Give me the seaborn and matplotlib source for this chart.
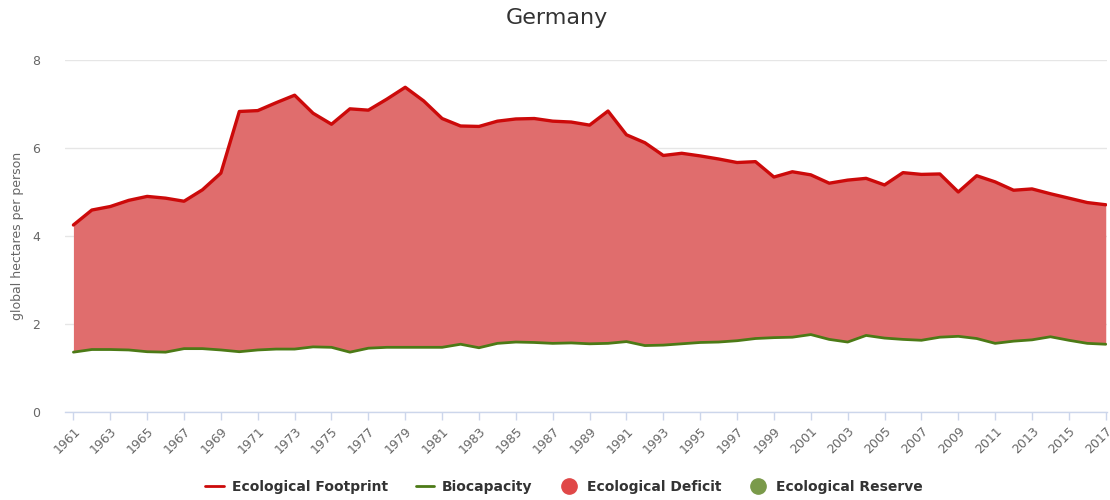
import seaborn as sns
import pandas as pd
import numpy as np
from matplotlib import pyplot as plt
from matplotlib.lines import Line2D

sns.set_theme(style="white")
plt.rcParams["font.family"] = ["DejaVu Sans"]

YEARS = list(range(1961, 2018))

FOOTPRINT = [4.25, 4.59, 4.67, 4.81, 4.90, 4.86, 4.79, 5.05, 5.43, 6.83,
             6.85, 7.03, 7.20, 6.79, 6.54, 6.89, 6.86, 7.11, 7.38, 7.07,
             6.67, 6.50, 6.49, 6.61, 6.66, 6.67, 6.61, 6.59, 6.52, 6.84,
             6.30, 6.12, 5.83, 5.88, 5.82, 5.75, 5.67, 5.69, 5.34, 5.46,
             5.39, 5.20, 5.27, 5.31, 5.16, 5.44, 5.40, 5.41, 5.00, 5.37,
             5.23, 5.04, 5.07, 4.96, 4.86, 4.76, 4.71]

BIOCAPACITY = [1.36, 1.42, 1.42, 1.41, 1.37, 1.36, 1.44, 1.44, 1.41, 1.37,
               1.41, 1.43, 1.43, 1.48, 1.47, 1.36, 1.45, 1.47, 1.47, 1.47,
               1.47, 1.54, 1.46, 1.56, 1.59, 1.58, 1.56, 1.57, 1.55, 1.56,
               1.60, 1.51, 1.52, 1.55, 1.58, 1.59, 1.62, 1.67, 1.69, 1.70,
               1.76, 1.65, 1.59, 1.74, 1.68, 1.65, 1.63, 1.70, 1.72, 1.67,
               1.56, 1.61, 1.64, 1.71, 1.63, 1.56, 1.54]

Y_TICKS = [0, 2, 4, 6, 8]
X_TICKS = list(range(1961, 2018, 2))

df = pd.DataFrame({"year": YEARS, "footprint": FOOTPRINT, "biocapacity": BIOCAPACITY})

fig, ax = plt.subplots(figsize=(11.1, 5), dpi=100)
fig.subplots_adjust(left=0.059, right=0.997, top=0.88, bottom=0.176)

# deficit area between footprint and biocapacity
ax.fill_between(df["year"], df["biocapacity"], df["footprint"],
                where=df["footprint"] >= df["biocapacity"],
                color="#e06d6d", linewidth=0, zorder=1)

sns.lineplot(data=df, x="year", y="footprint", color="#cc0a0a", linewidth=2.4, ax=ax, zorder=3)
sns.lineplot(data=df, x="year", y="biocapacity", color="#4c7a16", linewidth=2, ax=ax, zorder=3)

ax.set_xlim(1960.57, 2017.05)
ax.set_ylim(0, 8)
ax.set_yticks(Y_TICKS)
ax.set_xticks(X_TICKS)
ax.set_xticklabels([str(y) for y in X_TICKS], rotation=45, ha="right",
                   rotation_mode="anchor", fontsize=9, color="#666666")
ax.tick_params(axis="y", labelsize=9, labelcolor="#666666", length=0, pad=18)
ax.tick_params(axis="x", length=6, width=1, color="#ccd6eb", direction="out",
               bottom=True, pad=3)
ax.grid(axis="y", color="#e6e6e6", linewidth=1)
ax.grid(axis="x", visible=False)
for side in ["top", "right", "left"]:
    ax.spines[side].set_visible(False)
ax.spines["bottom"].set_color("#ccd6eb")
ax.spines["bottom"].set_linewidth(1)
ax.set_axisbelow(True)

ax.set_xlabel("")
ax.set_ylabel("global hectares per person", fontsize=9, color="#666666", labelpad=6)
fig.suptitle("Germany", fontsize=16, color="#333333", x=0.502, y=0.985, va="top")

handles = [
    Line2D([], [], color="#cc0a0a", linewidth=2),
    Line2D([], [], color="#4c7a16", linewidth=2),
    Line2D([], [], color="#e04848", marker="o", linestyle="", markersize=11),
    Line2D([], [], color="#7a9a4a", marker="o", linestyle="", markersize=11),
]
labels = ["Ecological Footprint", "Biocapacity", "Ecological Deficit", "Ecological Reserve"]
fig.legend(handles, labels, loc="center", bbox_to_anchor=(0.508, 0.027), ncol=4,
           frameon=False, handlelength=1.3, handletextpad=0.6, columnspacing=2.0,
           prop={"size": 10, "weight": "bold"}, labelcolor="#333333")

fig.savefig("out.png", dpi=100)
